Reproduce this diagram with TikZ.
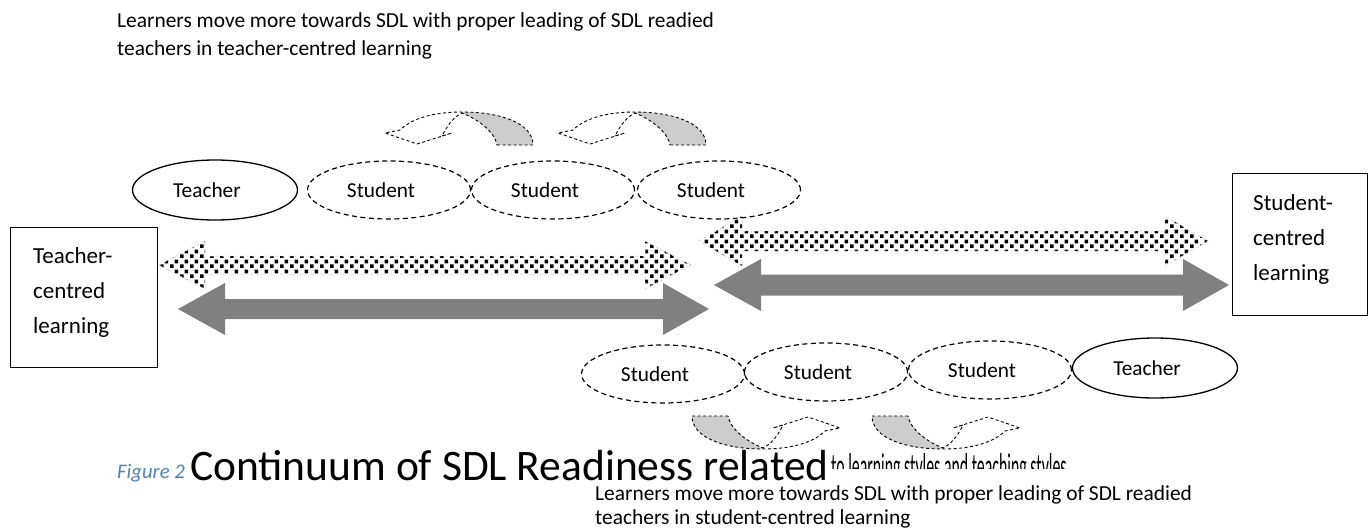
\documentclass[tikz,border=0pt]{standalone}
\usepackage{fontspec}
\setmainfont{Carlito}
\newfontfamily\capnarrow[FakeStretch=0.44]{Carlito}
\usetikzlibrary{patterns,shapes.geometric}
\definecolor{arrgray}{HTML}{808080}
\definecolor{bandgray}{HTML}{CCCCCC}
\definecolor{capblue}{HTML}{4F81BD}
\pgfdeclarepatternformonly{sqconf}{\pgfpointorigin}{\pgfqpoint{10pt}{10pt}}{\pgfqpoint{10pt}{10pt}}{%
  \pgfpathrectangle{\pgfqpoint{0pt}{0pt}}{\pgfqpoint{4pt}{4pt}}%
  \pgfpathrectangle{\pgfqpoint{5pt}{5pt}}{\pgfqpoint{4pt}{4pt}}%
  \pgfusepath{fill}}
\newcommand\blockdarrow[8]{% style, left tip, left base, right base, right tip, cy, shaft half, head half
  \path[#1] (#2,#6) -- (#3,#6-#8) -- (#3,#6-#7) -- (#4,#6-#7) -- (#4,#6-#8) -- (#5,#6)
   -- (#4,#6+#8) -- (#4,#6+#7) -- (#3,#6+#7) -- (#3,#6+#8) -- cycle;}
\tikzset{
  stud/.style={ellipse, draw, dashed, dash pattern=on 5pt off 3.5pt, line width=1.2pt, minimum width=163pt, minimum height=58pt, inner sep=0pt, font=\fontsize{21.3}{25}\selectfont, execute at begin node={\hspace*{-16pt}}},
  teach/.style={ellipse, draw, line width=1.3pt, minimum width=165pt, minimum height=60pt, inner sep=0pt, font=\fontsize{21.3}{25}\selectfont, execute at begin node={\hspace*{-16pt}}},
  cbox/.style={draw, line width=1.4pt, anchor=north west},
  cboxtext/.style={align=left, font=\fontsize{23}{35}\selectfont, inner sep=0pt, anchor=west},
  note/.style={anchor=north west, align=left, inner sep=0pt},
  graya/.style={fill=arrgray},
  checka/.style={pattern=sqconf, draw=gray!40, dashed, line width=0.5pt},
  curvdash/.style={draw, dash pattern=on 3pt off 2.5pt, line width=0.9pt},
  curvarrow/.pic={
    \fill[bandgray] (37,17) -- (73,17) .. controls (73,-5) and (40,-16) .. (2,-16) -- (2,-15) .. controls (20,-8) and (35,5) .. (37,17) -- cycle;
    \path[curvdash] (37,17) -- (73,17) .. controls (73,-5) and (40,-16) .. (2,-16)
      .. controls (-30,-16) and (-50,-8) .. (-60,2) -- (-75,5) -- (-43,16) -- (-8,5) -- (-18,8)
      .. controls (-12,-4) and (-6,-11) .. (2,-15) .. controls (20,-8) and (35,5) .. (37,17);
  }
}
\begin{document}
\begin{tikzpicture}[x=1pt,y=-1pt]
\useasboundingbox (0,0) rectangle (1369,528);
\fill[white] (0,0) rectangle (1369,528);

\node[note, font=\fontsize{21.4}{28}\selectfont] (toptext) at (117,12) {Learners move more towards SDL with proper leading of SDL readied\\teachers in teacher-centred learning};

\pic at (460,128) {curvarrow};
\pic at (633,128) {curvarrow};

\node[teach] (t1) at (215,190) {Teacher};
\node[stud] (s1) at (389,190) {Student};
\node[stud] (s2) at (553,190) {Student};
\node[stud] (s3) at (719,190) {Student};

\node[cbox, minimum width=147pt, minimum height=140pt] (tcl) at (10,227) {};
\node[cboxtext] (tcltext) at (33,292) {Teacher-\\centred\\learning};
\node[cbox, minimum width=135pt, minimum height=142pt] (scl) at (1232,173) {};
\node[cboxtext] (scltext) at (1253,239) {Student-\\centred\\learning};

\blockdarrow{checka}{159}{205}{645}{691}{265}{9}{24}
\blockdarrow{checka}{699}{742}{1165}{1208}{241}{10}{25}
\blockdarrow{graya}{178}{225}{663}{709}{309}{10}{26}
\blockdarrow{graya}{714}{761}{1183}{1229}{285}{10.5}{26}

\node[stud] (s4) at (663,374) {Student};
\node[stud] (s5) at (826,372) {Student};
\node[stud] (s6) at (990,370) {Student};
\node[teach] (t2) at (1155,368) {Teacher};

\pic[rotate=180] at (765,433) {curvarrow};
\pic[rotate=180] at (945,433) {curvarrow};

\node[anchor=base west, inner sep=0pt, font=\fontsize{20.7}{24}\selectfont\itshape, text=capblue] (fig) at (117,478) {Figure 2};
\node[anchor=base west, inner sep=0pt, font=\fontsize{43.5}{48}\selectfont] (cap) at (190,480) {Continuum of SDL Readiness related};
\node[anchor=base west, inner sep=0pt, font=\capnarrow\fontsize{36}{40}\selectfont] (cap2) at (831,478) {to learning styles and teaching styles};
\fill[white] (829,469) rectangle (1369,528);

\node[note, font=\fontsize{21.4}{24}\selectfont] (bottext) at (595,485) {Learners move more towards SDL with proper leading of SDL readied\\teachers in student-centred learning};
\end{tikzpicture}
\end{document}
